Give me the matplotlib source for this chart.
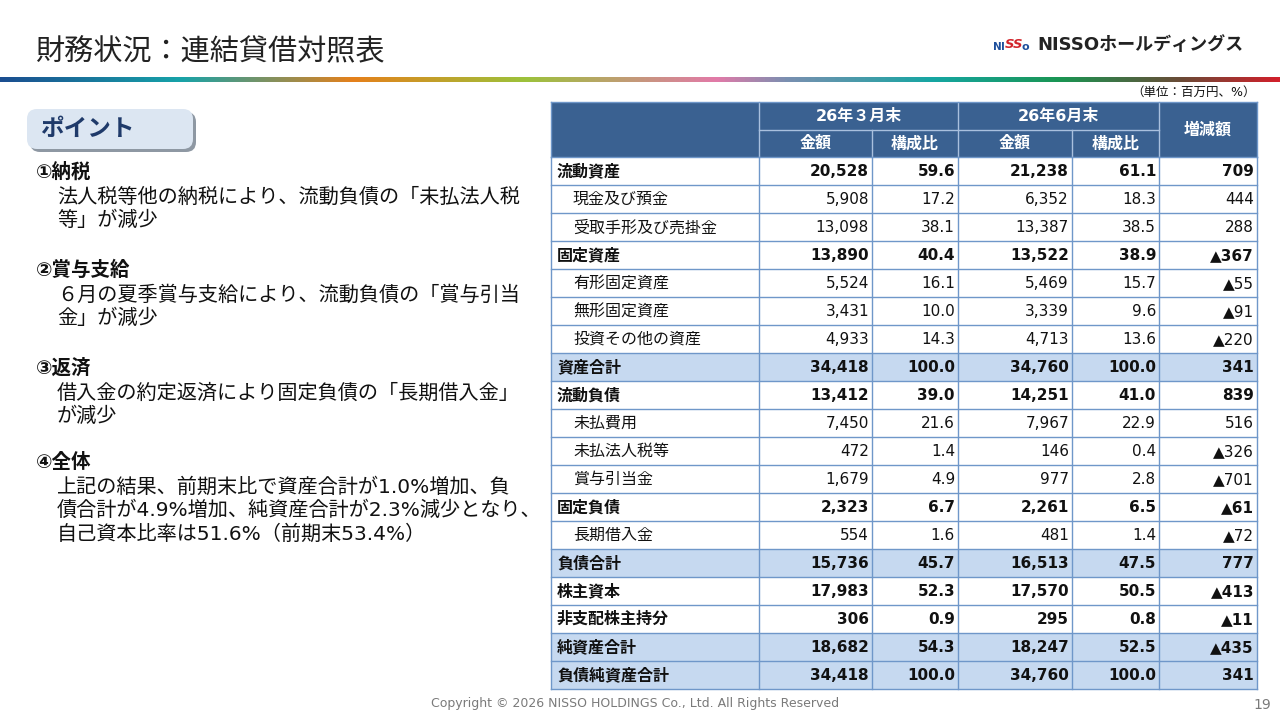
import matplotlib

matplotlib.use("Agg")
import matplotlib.pyplot as plt
import numpy as np
from matplotlib.colors import LinearSegmentedColormap
from matplotlib.patches import FancyBboxPatch, Rectangle

plt.rcParams["font.family"] = ["DejaVu Sans", "Noto Sans CJK JP"]

# ---- data -------------------------------------------------------------
row_labels = [
    "流動資産", "現金及び預金", "受取手形及び売掛金", "固定資産", "有形固定資産",
    "無形固定資産", "投資その他の資産", "資産合計", "流動負債", "未払費用",
    "未払法人税等", "賞与引当金", "固定負債", "長期借入金", "負債合計",
    "株主資本", "非支配株主持分", "純資産合計", "負債純資産合計",
]
amount_mar = [20528, 5908, 13098, 13890, 5524, 3431, 4933, 34418, 13412, 7450,
              472, 1679, 2323, 554, 15736, 17983, 306, 18682, 34418]
ratio_mar = [59.6, 17.2, 38.1, 40.4, 16.1, 10.0, 14.3, 100.0, 39.0, 21.6,
             1.4, 4.9, 6.7, 1.6, 45.7, 52.3, 0.9, 54.3, 100.0]
amount_jun = [21238, 6352, 13387, 13522, 5469, 3339, 4713, 34760, 14251, 7967,
              146, 977, 2261, 481, 16513, 17570, 295, 18247, 34760]
ratio_jun = [61.1, 18.3, 38.5, 38.9, 15.7, 9.6, 13.6, 100.0, 41.0, 22.9,
             0.4, 2.8, 6.5, 1.4, 47.5, 50.5, 0.8, 52.5, 100.0]
change = [709, 444, 288, -367, -55, -91, -220, 341, 839, 516,
          -326, -701, -61, -72, 777, -413, -11, -435, 341]
# b = bold header row, s = bold shaded total row, i = indented detail row
row_kind = ["b", "i", "i", "b", "i", "i", "i", "s", "b", "i",
            "i", "i", "b", "i", "s", "b", "b", "s", "s"]

period_labels = ["26年３月末", "26年6月末"]
sub_labels = ["金額", "構成比"]
change_label = "増減額"

points = [
    ("①納税", ["法人税等他の納税により、流動負債の「未払法人税", "等」が減少"]),
    ("②賞与支給", ["６月の夏季賞与支給により、流動負債の「賞与引当", "金」が減少"]),
    ("③返済", ["借入金の約定返済により固定負債の「長期借入金」", "が減少"]),
    ("④全体", ["上記の結果、前期末比で資産合計が1.0%増加、負",
               "債合計が4.9%増加、純資産合計が2.3%減少となり、",
               "自己資本比率は51.6%（前期末53.4%）"]),
]

# ---- styles -----------------------------------------------------------
HEAD = "#3a6191"
SHADE = "#c6d9f0"
GRID = "#6f97c9"
TXT = "#111111"

fig = plt.figure(figsize=(12.8, 7.2), dpi=100)
ax = fig.add_axes([0, 0, 1, 1])
ax.set_xlim(0, 1280)
ax.set_ylim(720, 0)
ax.axis("off")

# title + logo
ax.text(35, 52, "財務状況：連結貸借対照表", fontsize=21, color="#222222", va="center")
ax.text(993, 47, "N", fontsize=7.5, fontweight="bold", color="#1d4f9c", va="center")
ax.text(1001, 47, "I", fontsize=7.5, fontweight="bold", color="#1d4f9c", va="center")
ax.text(1005, 44, "SS", fontsize=9.5, fontweight="bold", style="italic",
        color="#d2232a", va="center")
ax.text(1022, 47.5, "o", fontsize=8, fontweight="bold", color="#1d4f9c", va="center")
ax.text(1037, 45, "NISSOホールディングス", fontsize=13, fontweight="bold",
        color="#222222", va="center")

# gradient rule under the title
stops = ["#1b4e90", "#17a3a9", "#e5801b", "#9cc23b", "#e27aa8", "#7a8fb1",
         "#15a6a2", "#1a9552", "#6b4a36", "#d1202b"]
pos = [0.0, 0.14, 0.275, 0.41, 0.56, 0.615, 0.73, 0.83, 0.925, 1.0]
cmap = LinearSegmentedColormap.from_list("rule", list(zip(pos, stops)))
ax.imshow(np.linspace(0, 1, 512).reshape(1, -1), cmap=cmap, aspect="auto",
          extent=[0, 1280, 82, 77], zorder=1)
ax.set_xlim(0, 1280)
ax.set_ylim(720, 0)

# "ポイント" tab
ax.add_patch(FancyBboxPatch((30, 112), 166, 40, boxstyle="round,pad=0,rounding_size=10",
                            fc="#8e98a3", ec="none", zorder=2))
ax.add_patch(FancyBboxPatch((27, 109), 166, 40, boxstyle="round,pad=0,rounding_size=10",
                            fc="#dce6f2", ec="none", zorder=3))
ax.text(40, 129, "ポイント", fontsize=17, fontweight="bold", color="#1f3a6a",
        va="center", zorder=4)

# points text
heads_y = [172, 270, 368, 462]
for (head, lines), y0 in zip(points, heads_y):
    ax.text(36, y0, head, fontsize=14, fontweight="bold", color=TXT, va="center")
    for k, line in enumerate(lines):
        ax.text(57, y0 + 25 + 23.5 * k, line, fontsize=14.5, color=TXT, va="center")

# ---- table ------------------------------------------------------------
xs = [551, 759, 872, 958, 1072, 1159, 1257]
y_top, y_mid, y_head = 102, 130, 157
rh = 28.0

ax.text(1256, 92, "（単位：百万円、%）", fontsize=9, color=TXT, ha="right", va="center")

ax.add_patch(Rectangle((xs[0], y_top), xs[-1] - xs[0], y_head - y_top,
                       fc=HEAD, ec="none", zorder=2))
hl = dict(color="#a9c0de", lw=1.0, zorder=3)
ax.plot([xs[1], xs[5]], [y_mid, y_mid], **hl)
for x in (xs[1], xs[3], xs[5]):
    ax.plot([x, x], [y_top, y_head], **hl)
for x in (xs[2], xs[4]):
    ax.plot([x, x], [y_mid, y_head], **hl)
for p, label in enumerate(period_labels):
    xc = (xs[1 + 2 * p] + xs[3 + 2 * p]) / 2
    ax.text(xc, (y_top + y_mid) / 2, label, fontsize=11.5, fontweight="bold",
            color="white", ha="center", va="center", zorder=4)
    for s, sub in enumerate(sub_labels):
        xc = (xs[1 + 2 * p + s] + xs[2 + 2 * p + s]) / 2
        ax.text(xc, (y_mid + y_head) / 2, sub, fontsize=11.5, fontweight="bold",
                color="white", ha="center", va="center", zorder=4)
ax.text((xs[5] + xs[6]) / 2, (y_top + y_head) / 2, change_label, fontsize=11.5,
        fontweight="bold", color="white", ha="center", va="center", zorder=4)


def fmt_change(v):
    return f"▲{abs(v):,}" if v < 0 else f"{v:,}"


for r, label in enumerate(row_labels):
    y0 = y_head + r * rh
    yc = y0 + rh / 2 + 0.5
    kind = row_kind[r]
    bold = "bold" if kind in ("b", "s") else "normal"
    if kind == "s":
        ax.add_patch(Rectangle((xs[0], y0), xs[-1] - xs[0], rh, fc=SHADE,
                               ec="none", zorder=1))
    lx = 573 if kind == "i" else 557
    ax.text(lx, yc, label, fontsize=11.5, fontweight=bold, color=TXT, va="center")
    cells = [f"{amount_mar[r]:,}", f"{ratio_mar[r]:.1f}",
             f"{amount_jun[r]:,}", f"{ratio_jun[r]:.1f}", fmt_change(change[r])]
    for c, txt in enumerate(cells):
        ax.text(xs[c + 2] - 3, yc, txt, fontsize=11, fontweight=bold,
                color=TXT, ha="right", va="center")

y_bot = y_head + len(row_labels) * rh
for r in range(len(row_labels) + 1):
    y = y_head + r * rh
    ax.plot([xs[0], xs[-1]], [y, y], color=GRID, lw=1.0, zorder=3)
for x in xs:
    ax.plot([x, x], [y_head, y_bot], color=GRID, lw=1.0, zorder=3)
ax.plot([xs[0], xs[0]], [y_top, y_head], color=GRID, lw=1.0, zorder=3)
ax.plot([xs[-1], xs[-1]], [y_top, y_head], color=GRID, lw=1.0, zorder=3)
ax.plot([xs[0], xs[-1]], [y_top, y_top], color=GRID, lw=1.0, zorder=3)

# footer
ax.text(635, 703, "Copyright © 2026 NISSO HOLDINGS Co., Ltd. All Rights Reserved",
        fontsize=9, color="#7a7a7a", ha="center", va="center")
ax.text(1262, 705, "19", fontsize=10, color="#7a7a7a", ha="center", va="center")

fig.savefig("out.png", dpi=100)
